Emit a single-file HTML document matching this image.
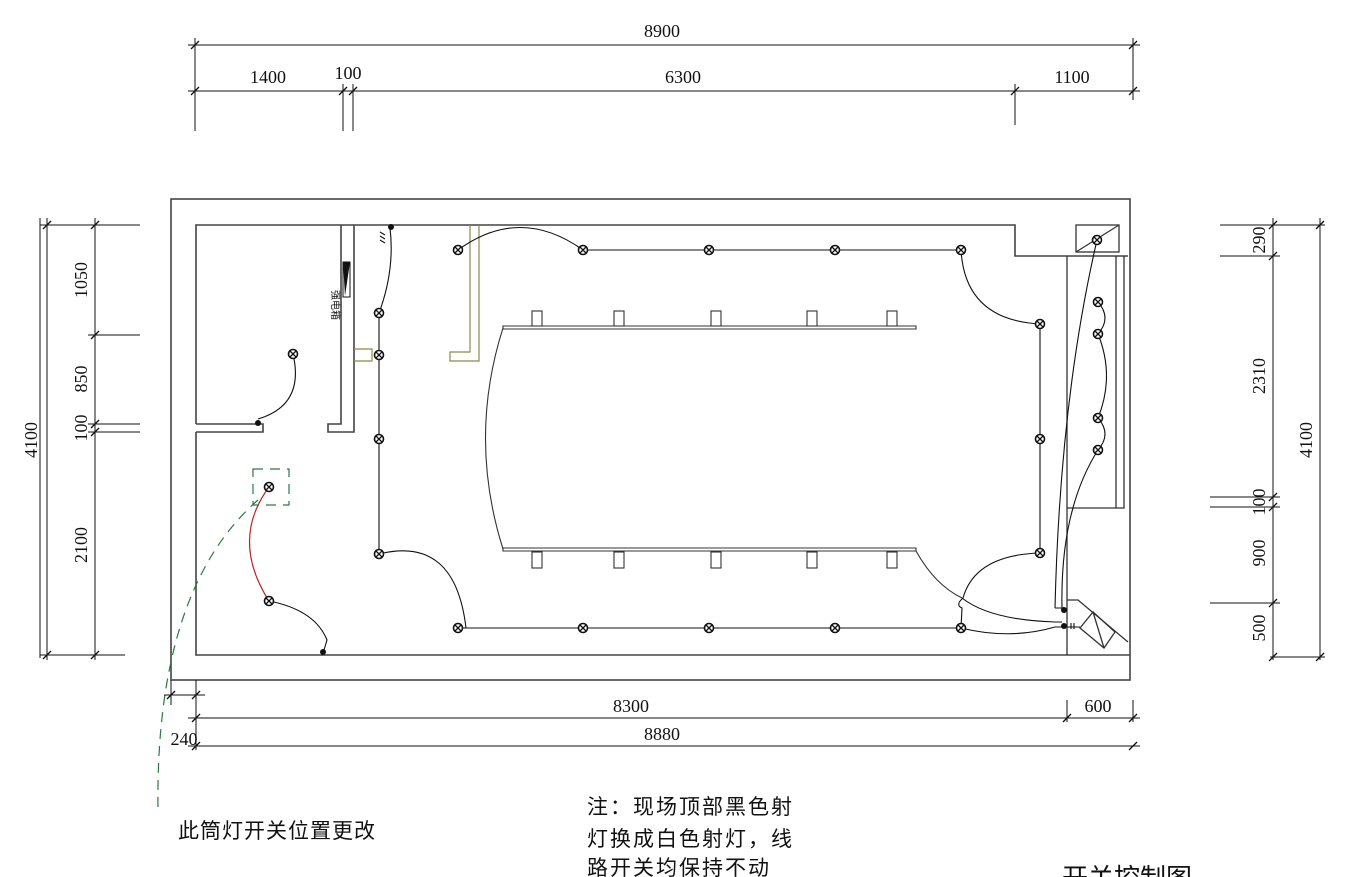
<!DOCTYPE html>
<html><head><meta charset="utf-8"><style>
html,body{margin:0;padding:0;background:#fff}
svg{display:block}
.d{font-family:"Liberation Serif","DejaVu Serif",serif;font-size:18px;fill:#111}
.c{font-family:"Liberation Sans","Noto Sans CJK SC",sans-serif;fill:#111}
</style></head><body>
<svg width="1355" height="877" viewBox="0 0 1355 877" xmlns="http://www.w3.org/2000/svg">
<defs>
<g id="L"><circle r="4.5" fill="#fff" stroke="#111" stroke-width="1.6"/><path d="M-3,-3L3,3M-3,3L3,-3" stroke="#111" stroke-width="1.3"/></g>
<g id="T"><path d="M-4,4L4,-4" stroke="#111" stroke-width="1.3"/></g>
</defs>
<g fill="none" stroke="#444" stroke-width="1.6">
<rect x="171" y="199" width="959" height="481"/>
<path d="M196,424V225H1015V256H1128"/>
<path d="M196,432V655H1130"/>
<path d="M196,424H263V432H196"/>
<path d="M341,225V424H328V432H354V225"/>
</g>
<g fill="none" stroke="#333" stroke-width="1.3">
<path d="M1067,256V655M1067,508H1124V256M1116,256V508"/>
<rect x="1076" y="225" width="43" height="27"/>
<path d="M1076,252L1119,225"/>
<path d="M1067,600H1078L1128,642"/>
<path d="M1080,628L1093,612L1115,632L1104,648Z M1093,612L1104,648"/>
</g>
<g fill="none" stroke="#8a8a4a" stroke-width="1.2">
<path d="M470,225V352H450V361H479V225"/>
<path d="M354,349H372V361H354"/>
</g>
<rect x="343" y="262" width="7" height="35" fill="#fff" stroke="#111"/>
<path d="M343,262H350L345,296Z" fill="#111"/>
<text x="0" y="0" class="c" font-size="10" transform="translate(332,290) rotate(90)">强电箱</text>
<g fill="none" stroke="#333" stroke-width="1.1">
<path d="M503,326H916V329H503Z"/>
<path d="M503,548H916V551H503Z"/>
<path d="M503,328Q468,438 503,549"/>
<path d="M916,551Q935,585 962,598"/>
<rect x="532" y="311" width="10" height="15"/><rect x="614" y="311" width="10" height="15"/><rect x="711" y="311" width="10" height="15"/><rect x="807" y="311" width="10" height="15"/><rect x="887" y="311" width="10" height="15"/>
<rect x="532" y="552" width="10" height="16"/><rect x="614" y="552" width="10" height="16"/><rect x="711" y="552" width="10" height="16"/><rect x="807" y="552" width="10" height="16"/><rect x="887" y="552" width="10" height="16"/>
</g>
<g fill="none" stroke="#111" stroke-width="1.1">
<path d="M583,250H961"/><path d="M458,628H961"/>
<path d="M458,250Q520,205 583,250"/>
<path d="M379,313V554"/><path d="M1040,324V553"/>
<path d="M379,313Q395,270 390,228"/>
<path d="M293,354Q305,405 258,419"/>
<path d="M379,554Q455,535 466,628"/>
<path d="M961,250Q965,320 1040,324"/>
<path d="M1040,553Q975,555 963,598Q955,605 962,608L961,628"/>
<path d="M962,598Q990,620 1055,622"/>
<path d="M961,628Q1010,640 1055,627"/>
<path d="M1097,240Q1060,400 1055,608"/>
<path d="M1098,450Q1060,510 1062,608"/>
<path d="M1098,302Q1112,318 1098,334"/>
<path d="M1098,334Q1115,376 1098,418"/>
<path d="M1098,418Q1112,434 1098,450"/>
<path d="M269,601Q315,610 327,640L324,650"/>
<path d="M1055,608H1062M1055,622H1062M1055,627H1080"/>
</g>
<path d="M269,487Q230,540 269,601" fill="none" stroke="#b22" stroke-width="1.2"/>
<g fill="#111"><circle cx="391" cy="227" r="3"/><circle cx="258" cy="423" r="3"/><circle cx="323" cy="652" r="3"/><circle cx="1064" cy="610" r="3"/><circle cx="1064" cy="626" r="3"/></g>
<g stroke="#111" stroke-width="1.1"><path d="M380,232l5,3M380,236l5,3M380,240l5,3"/><path d="M1071,623v6M1074,623v6"/></g>
<g fill="none" stroke="#2a7a40" stroke-width="1.2" stroke-dasharray="10,7">
<rect x="253" y="469" width="36" height="36"/>
<path d="M258,500Q155,590 158,810"/>
</g>
<g>
<use href="#L" x="458" y="250"/><use href="#L" x="583" y="250"/><use href="#L" x="709" y="250"/><use href="#L" x="835" y="250"/><use href="#L" x="961" y="250"/>
<use href="#L" x="458" y="628"/><use href="#L" x="583" y="628"/><use href="#L" x="709" y="628"/><use href="#L" x="835" y="628"/><use href="#L" x="961" y="628"/>
<use href="#L" x="1040" y="324"/><use href="#L" x="1040" y="439"/><use href="#L" x="1040" y="553"/>
<use href="#L" x="379" y="313"/><use href="#L" x="379" y="355"/><use href="#L" x="379" y="439"/><use href="#L" x="379" y="554"/>
<use href="#L" x="293" y="354"/><use href="#L" x="269" y="487"/><use href="#L" x="269" y="601"/>
<use href="#L" x="1097" y="240"/><use href="#L" x="1098" y="302"/><use href="#L" x="1098" y="334"/><use href="#L" x="1098" y="418"/><use href="#L" x="1098" y="450"/>
</g>
<g fill="none" stroke="#111" stroke-width="1">
<path d="M188,45H1140M188,91H1140"/>
<path d="M195,38V131M343,84V131M353,84V131M1015,84V125M1133,38V100"/>
<path d="M40,218V658M40,225H140M88,335H140M88,424H140M88,432H140M40,655H125M47,218V660M95,218V660"/>
<path d="M1220,225H1325M1220,256H1280M1210,497H1280M1210,507H1280M1210,603H1280M1270,657H1325M1273,218V660M1320,218V660"/>
<path d="M164,695H205M188,718H1140M188,746H1140M171,680V705M196,680V750M1067,700V722M1133,700V722"/>
</g>
<g>
<use href="#T" x="195" y="45"/><use href="#T" x="1133" y="45"/>
<use href="#T" x="195" y="91"/><use href="#T" x="343" y="91"/><use href="#T" x="353" y="91"/><use href="#T" x="1015" y="91"/><use href="#T" x="1133" y="91"/>
<use href="#T" x="47" y="225"/><use href="#T" x="47" y="655"/>
<use href="#T" x="95" y="225"/><use href="#T" x="95" y="335"/><use href="#T" x="95" y="424"/><use href="#T" x="95" y="432"/><use href="#T" x="95" y="655"/>
<use href="#T" x="1273" y="225"/><use href="#T" x="1273" y="256"/><use href="#T" x="1273" y="497"/><use href="#T" x="1273" y="507"/><use href="#T" x="1273" y="603"/><use href="#T" x="1273" y="657"/>
<use href="#T" x="1320" y="225"/><use href="#T" x="1320" y="657"/>
<use href="#T" x="171" y="695"/><use href="#T" x="196" y="695"/>
<use href="#T" x="196" y="718"/><use href="#T" x="1067" y="718"/><use href="#T" x="1133" y="718"/>
<use href="#T" x="196" y="746"/><use href="#T" x="1133" y="746"/>
</g>
<g class="d" text-anchor="middle">
<text x="662" y="37">8900</text>
<text x="268" y="83">1400</text><text x="348" y="79">100</text><text x="683" y="83">6300</text><text x="1072" y="83">1100</text>
<text x="631" y="712">8300</text><text x="1098" y="712">600</text>
<text x="662" y="740">8880</text><text x="184" y="745">240</text>
<text transform="translate(37,440) rotate(-90)">4100</text>
<text transform="translate(87,280) rotate(-90)">1050</text>
<text transform="translate(87,379) rotate(-90)">850</text>
<text transform="translate(87,428) rotate(-90)">100</text>
<text transform="translate(87,545) rotate(-90)">2100</text>
<text transform="translate(1265,240) rotate(-90)">290</text>
<text transform="translate(1265,376) rotate(-90)">2310</text>
<text transform="translate(1265,502) rotate(-90)">100</text>
<text transform="translate(1265,553) rotate(-90)">900</text>
<text transform="translate(1265,628) rotate(-90)">500</text>
<text transform="translate(1312,440) rotate(-90)">4100</text>
</g>
<g class="c" font-size="21">
<text x="178" y="838" letter-spacing="1">此筒灯开关位置更改</text>
<text x="587" y="814" letter-spacing="2">注：现场顶部黑色射</text>
<text x="587" y="846" letter-spacing="2">灯换成白色射灯，线</text>
<text x="587" y="875" letter-spacing="2">路开关均保持不动</text>
<text x="1062" y="887" font-size="26">开关控制图</text>
</g>
</svg>
</body></html>
